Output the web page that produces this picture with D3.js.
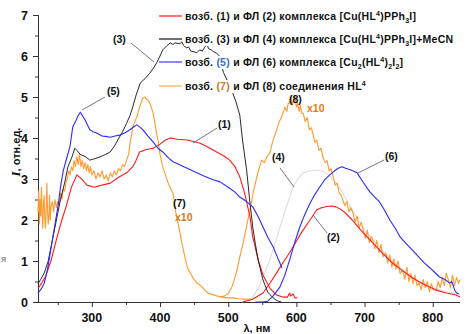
<!DOCTYPE html>
<html>
<head>
<meta charset="utf-8">
<script src="https://cdn.jsdelivr.net/npm/d3@7"></script>
<style>
  body { margin: 0; background: #fff; }
  text { font-family: "Liberation Sans", Arial, sans-serif; font-weight: bold; }
</style>
</head>
<body>
<div id="chart"></div>
<script>
// excitation (1) and emission (2), [Cu(HL4)PPh3I]
var exc1 = [[221,0.34],[226,0.45],[232,0.62],[240,1.0],[249,1.59],[256,2.0],[263,2.37],[270,2.8],[278,3.1],[285,3.0],[293,2.85],[303,2.8],[315,2.85],[327,2.9],[340,3.05],[351,3.15],[360,3.3],[365,3.46],[370,3.66],[380,3.72],[390,3.75],[400,3.85],[408,3.95],[415,4.0],[425,3.97],[440,3.95],[459,3.87],[470,3.78],[483,3.66],[495,3.55],[502,3.46],[510,3.3],[517,3.05],[524,2.66],[532,2.07],[536,1.59],[544,1.02],[551,0.66],[561,0.34],[571,0.17],[580,0.12],[587,0.12],[590,0.22],[592,0.14],[595,0.2],[598,0.1],[601,0.1]];
var em2 = [[521,0.0],[535,0.06],[551,0.22],[561,0.45],[571,0.71],[580,0.95],[590,1.2],[600,1.48],[608,1.71],[620,2.0],[630,2.25],[637,2.3],[645,2.33],[652,2.34],[658,2.32],[665,2.26],[672,2.17],[682,2.0],[692,1.8],[702,1.62],[712,1.44],[726,1.2],[741,0.95],[756,0.76],[771,0.58],[788,0.42],[805,0.29],[820,0.22],[834,0.17],[840,0.12]];
// excitation (3) and emission (4), [Cu(HL4)PPh3I]+MeCN
var exc3 = [[221,0.45],[225,0.55],[230,0.7],[236,1.0],[242,1.5],[248,2.0],[254,2.5],[260,2.9],[265,3.3],[270,3.5],[275,3.75],[278,3.7],[283,3.6],[290,3.55],[297,3.46],[305,3.5],[312,3.54],[320,3.6],[327,3.66],[333,3.8],[338,3.95],[345,4.15],[351,4.36],[356,4.55],[360,4.76],[365,5.05],[371,5.34],[378,5.45],[385,5.58],[390,5.7],[395,5.83],[400,6.0],[404,6.15],[410,6.25],[415,6.32],[419,6.28],[422,6.32],[429,6.3],[432,6.34],[435,6.25],[439,6.2],[442,6.22],[445,6.12],[450,6.1],[454,6.08],[458,6.15],[462,6.12],[465,6.2],[469,6.3],[471,6.18],[475,6.15],[479,6.1],[483,6.07],[487,6.0],[493,5.6],[500,5.35],[505,5.17],[511,4.9],[517,4.56],[521,3.95],[527,3.22],[532,2.4],[536,1.83],[540,1.4],[544,1.02],[551,0.54],[558,0.24],[566,0.1],[572,0.03],[578,0.0]];
var em4 = [[520,0.0],[535,0.1],[545,0.35],[553,0.7],[561,1.02],[568,1.4],[576,1.83],[585,2.3],[595,2.8],[602,3.0],[610,3.15],[620,3.2],[629,3.22],[636,3.2],[643,3.15],[650,3.05],[665,2.75],[680,2.3],[700,1.75],[720,1.38],[740,1.0],[760,0.74],[780,0.5],[800,0.35],[820,0.25],[840,0.18]];
// excitation (5) and emission (6), [Cu2(HL4)2I2]
var exc5 = [[221,0.22],[225,0.3],[230,0.45],[235,0.8],[240,1.3],[245,1.8],[250,2.3],[254,2.8],[258,3.2],[263,3.5],[268,3.8],[272,4.27],[276,4.4],[280,4.55],[283,4.63],[286,4.55],[290,4.44],[297,4.2],[302,4.15],[307,4.12],[315,4.05],[320,4.04],[327,4.02],[334,4.05],[341,4.07],[348,4.12],[356,4.2],[362,4.28],[366,4.32],[370,4.27],[375,4.2],[382,4.05],[390,3.9],[397,3.75],[404,3.66],[412,3.52],[419,3.42],[425,3.38],[435,3.3],[450,3.18],[465,3.07],[478,2.98],[488,2.93],[500,2.8],[510,2.68],[517,2.56],[527,2.45],[536,2.32],[544,2.08],[551,1.83],[558,1.58],[566,1.34],[572,1.1],[579,0.83]];
var em6 = [[540,0.0],[550,0.0],[558,0.02],[566,0.15],[576,0.37],[583,0.65],[590,1.02],[597,1.42],[605,1.83],[612,2.12],[620,2.41],[627,2.62],[634,2.8],[641,2.97],[649,3.1],[656,3.2],[662,3.27],[667,3.3],[672,3.26],[680,3.22],[689,3.15],[698,2.92],[708,2.68],[715,2.56],[722,2.44],[730,2.22],[737,2.0],[745,1.8],[752,1.59],[759,1.46],[766,1.34],[774,1.2],[781,1.07],[788,0.95],[796,0.83],[803,0.72],[810,0.61],[818,0.55],[825,0.46],[828,0.5],[832,0.3],[835,0.22],[838,0.2]];
// excitation (7) and emission (8), HL4 (x10)
var exc7 = [[221,2.2],[222,2.7],[223,1.9],[224,2.5],[225,2.1],[226,2.8],[227,2.2],[228,1.8],[229,2.4],[230,2.6],[231,2.0],[232,1.8],[233,2.3],[234,2.9],[235,2.2],[236,1.9],[237,2.1],[238,2.6],[239,2.0],[240,2.3],[242,2.45],[244,2.2],[246,2.5],[248,2.3],[250,2.45],[252,2.35],[254,2.66],[256,2.5],[258,2.75],[260,2.7],[262,2.9],[264,3.0],[266,3.2],[268,3.1],[270,3.3],[272,3.2],[274,3.45],[276,3.3],[278,3.55],[280,3.35],[282,3.6],[284,3.3],[286,3.45],[288,3.25],[290,3.4],[292,3.2],[294,3.35],[296,3.15],[298,3.3],[300,3.1],[303,3.2],[306,3.0],[309,3.15],[312,3.05],[315,3.2],[318,3.0],[321,3.1],[324,2.95],[327,3.15],[330,3.05],[333,3.2],[336,3.1],[339,3.25],[342,3.2],[345,3.35],[348,3.3],[351,3.46],[354,3.6],[356,3.88],[358,4.05],[360,4.27],[363,4.4],[366,4.51],[369,4.7],[372,4.85],[375,4.98],[378,5.0],[380,4.95],[382,4.93],[385,4.85],[388,4.7],[390,4.6],[393,4.3],[395,4.1],[397,3.95],[400,3.6],[404,3.29],[408,3.1],[412,2.9],[416,2.75],[419,2.66],[423,2.2],[428,1.8],[432,1.44],[437,1.05],[440,0.85],[444,0.71],[450,0.55],[455,0.45],[459,0.41],[465,0.3],[470,0.22],[477,0.18],[483,0.15],[490,0.12],[500,0.1],[507,0.1],[515,0.08],[525,0.07],[535,0.06]];
var em8 = [[488,0.12],[495,0.15],[500,0.2],[505,0.35],[509,0.55],[513,0.78],[517,1.1],[522,1.44],[527,1.85],[532,2.24],[537,2.7],[542,3.05],[546,3.3],[549,3.46],[553,3.4],[557,3.55],[561,3.63],[565,3.9],[568,4.05],[571,4.2],[575,4.4],[578,4.5],[580,4.6],[583,4.75],[586,4.65],[588,4.85],[590,4.85],[592,5.0],[594,4.8],[596,4.93],[598,5.05],[600,4.75],[602,4.85],[604,4.65],[606,4.8],[608,4.6],[610,4.6],[613,4.4],[616,4.5],[619,4.2],[622,4.25],[624,4.12],[627,3.9],[630,3.95],[633,3.7],[636,3.75],[639,3.54],[642,3.4],[645,3.45],[648,3.2],[651,3.25],[654,3.05],[657,2.85],[660,2.9],[663,2.65],[666,2.6],[668,2.49],[671,2.35],[674,2.45],[677,2.2],[680,2.3],[683,2.17],[686,1.95],[689,2.1],[692,1.8],[695,1.95],[698,1.76],[701,1.55],[704,1.75],[707,1.45],[710,1.6],[712,1.51],[715,1.3],[718,1.5],[721,1.2],[724,1.4],[727,1.1],[731,1.2],[734,0.95],[737,1.15],[740,0.85],[743,1.05],[746,0.8],[749,1.0],[752,0.7],[756,0.78],[759,0.55],[762,0.85],[765,0.5],[768,0.7],[771,0.45],[774,0.65],[777,0.4],[780,0.46],[783,0.3],[786,0.55],[789,0.35],[792,0.5],[795,0.25],[798,0.45],[801,0.3],[805,0.29],[808,0.5],[811,0.35],[814,0.6],[817,0.4],[820,0.7],[823,0.54],[826,0.35],[829,0.65],[832,0.4],[835,0.6],[838,0.45],[840,0.55]];

var xTicks = [300, 400, 500, 600, 700, 800];
var yTicks = [0, 1, 2, 3, 4, 5, 6, 7];

var legendRows = [
  { color: "#ff1a1a", parts: [["возб. "], ["(1)"], [" и ФЛ (2) комплекса [Cu(HL"], ["4", "sup"], [")PPh"], ["3", "sub"], ["I]"]] },
  { color: "#111111", parts: [["возб. "], ["(3)"], [" и ФЛ (4) комплекса [Cu(HL"], ["4", "sup"], [")PPh"], ["3", "sub"], ["I]+MeCN"]] },
  { color: "#3a3aff", parts: [["возб. "], ["(5)", null, "#3a70c8"], [" и ФЛ (6) комплекса [Cu"], ["2", "sub"], ["(HL"], ["4", "sup"], [")"], ["2", "sub"], ["I"], ["2", "sub"], ["]"]] },
  { color: "#ffa850", parts: [["возб. "], ["(7)", null, "#c87828"], [" и ФЛ (8) соединения HL"], ["4", "sup"]] }
];

var width = 472, height = 334;
var svg = d3.select("#chart").append("svg")
  .attr("width", width).attr("height", height);

var x = d3.scaleLinear().domain([221, 840]).range([38, 460]);
var y = d3.scaleLinear().domain([0, 7]).range([302, 15]);

var line = d3.line().x(function(d){ return x(d[0]); }).y(function(d){ return y(d[1]); });

// axes
var xAxis = svg.append("g").attr("transform", "translate(0," + y(0) + ")");
xAxis.call(d3.axisBottom(x).tickValues(d3.range(250, 850, 50)).tickSize(3).tickFormat(""));
xAxis.call(function(g){
  g.selectAll(".tick").filter(function(d){ return d % 100 == 0; }).select("line").attr("y2", 5);
});
xAxis.selectAll("path, line").attr("stroke", "#333");
xAxis.select(".domain").attr("d", "M38,0.5H460");
xTicks.forEach(function(t){
  xAxis.append("text").attr("x", x(t)).attr("y", 20).attr("text-anchor", "middle")
    .attr("font-size", 12.5).attr("fill", "#111").text(t);
});

var yAxis = svg.append("g").attr("transform", "translate(38,0)");
yAxis.call(d3.axisLeft(y).tickValues(d3.range(0, 7.01, 0.5)).tickSize(3).tickFormat(""));
yAxis.call(function(g){
  g.selectAll(".tick").filter(function(d){ return d % 1 == 0; }).select("line").attr("x2", -5);
});
yAxis.selectAll("path, line").attr("stroke", "#333");
yAxis.select(".domain").attr("d", "M0.5," + y(7) + "V" + y(0));
yTicks.forEach(function(t){
  yAxis.append("text").attr("x", -10).attr("y", y(t) + 4.5).attr("text-anchor", "end")
    .attr("font-size", 12.5).attr("fill", "#111").text(t);
});

// axis titles
svg.append("text").attr("x", 257).attr("y", 332).attr("text-anchor", "middle")
  .attr("font-size", 11).attr("fill", "#111").text("λ, нм");
var yt = svg.append("text").attr("transform", "translate(20,152) rotate(-90)")
  .attr("text-anchor", "middle").attr("font-size", 11).attr("fill", "#111");
yt.append("tspan").attr("font-family", "Liberation Serif").attr("font-style", "italic").attr("font-size", 13).text("I");
yt.append("tspan").text(", отн.ед.");
svg.append("text").attr("x", 1).attr("y", 262).attr("font-size", 9).attr("font-weight", "normal")
  .attr("fill", "#999").text("я");

// curves
var series = [
  { data: em4, color: "#dedede" },
  { data: exc7, color: "#ff9a30" },
  { data: em8, color: "#ff9a30" },
  { data: exc1, color: "#ff1a1a" },
  { data: em2, color: "#ff1a1a" },
  { data: exc3, color: "#111111" },
  { data: exc5, color: "#2a2aff" },
  { data: em6, color: "#2a2aff" }
];
svg.append("g").selectAll("path").data(series).enter().append("path")
  .attr("d", function(d){ return line(d.data); })
  .attr("fill", "none")
  .attr("stroke", function(d){ return d.color; })
  .attr("stroke-width", function(d){ return d.color == "#111111" ? 0.9 : 1.1; })
  .attr("stroke-linejoin", "round");

// annotations with leader lines
var notes = [
  { t: "(3)", x: 113, y: 43, lx1: 131, ly1: 43, lx2: 154, ly2: 62 },
  { t: "(5)", x: 107, y: 95, lx1: 105, ly1: 97, lx2: 82, ly2: 110 },
  { t: "(1)", x: 218, y: 128, lx1: 217, ly1: 128, lx2: 193, ly2: 143 },
  { t: "(7)", x: 173, y: 207 },
  { t: "(8)", x: 289, y: 103 },
  { t: "(4)", x: 272, y: 161, lx1: 280, ly1: 168, lx2: 294, ly2: 187 },
  { t: "(6)", x: 385, y: 160, lx1: 384, ly1: 160, lx2: 358, ly2: 173 },
  { t: "(2)", x: 327, y: 241, lx1: 327, ly1: 233, lx2: 313, ly2: 215 }
];
var ann = svg.append("g");
notes.forEach(function(n){
  if (n.lx1 != null) {
    ann.append("line").attr("x1", n.lx1).attr("y1", n.ly1).attr("x2", n.lx2).attr("y2", n.ly2)
      .attr("stroke", "#555").attr("stroke-width", 0.8);
  }
  ann.append("text").attr("x", n.x).attr("y", n.y).attr("font-size", 10.5).attr("fill", "#111").text(n.t);
});
ann.append("text").attr("x", 175).attr("y", 221).attr("font-size", 10.5).attr("fill", "#d87a18").text("x10");
ann.append("text").attr("x", 307).attr("y", 112).attr("font-size", 10.5).attr("fill", "#ee7a10").text("x10");

// legend
var legendY = [16, 39, 62, 86];
var leg = svg.append("g");
legendRows.forEach(function(row, i){
  var g = leg.append("g").attr("transform", "translate(0," + legendY[i] + ")");
  var bg = g.append("rect").attr("fill", "#fff");
  g.append("line").attr("x1", 159).attr("x2", 182).attr("y1", 0).attr("y2", 0)
    .attr("stroke", row.color).attr("stroke-width", 1.2);
  var txt = g.append("text").attr("x", 185).attr("y", 4).attr("font-size", 10.5)
    .attr("letter-spacing", 0.25).attr("fill", "#111");
  var shift = 0;
  row.parts.forEach(function(p){
    var ts = txt.append("tspan").text(p[0]);
    var target = p[1] == "sup" ? -4 : p[1] == "sub" ? 3 : 0;
    if (target != shift) { ts.attr("dy", target - shift); shift = target; }
    if (p[1]) ts.attr("font-size", 7);
    if (p[2]) ts.attr("fill", p[2]);
  });
  var bb = txt.node().getBBox();
  bg.attr("x", bb.x - 1).attr("y", -6).attr("width", bb.width + 2).attr("height", 13);
});
</script>
</body>
</html>
